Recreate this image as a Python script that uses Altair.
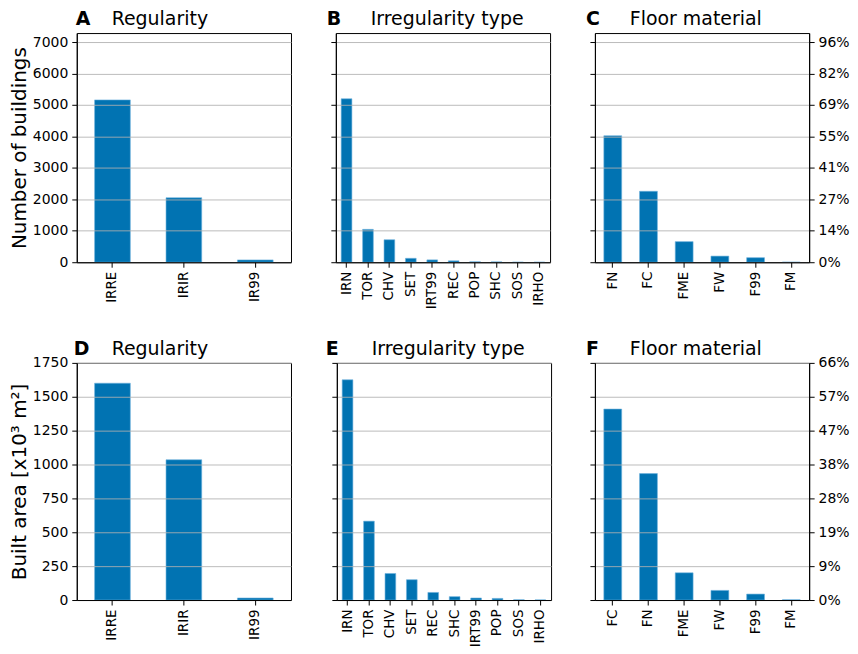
import altair as alt
import pandas as pd

# ---- data ----
reg_cats = ["IRRE", "IRIR", "IR99"]
reg_count = [5160, 2050, 75]
irr_cats_count = ["IRN", "TOR", "CHV", "SET", "IRT99", "REC", "POP", "SHC", "SOS", "IRHO"]
irr_count = [5195, 1045, 715, 125, 75, 45, 15, 12, 3, 2]
floor_cats_count = ["FN", "FC", "FME", "FW", "F99", "FM"]
floor_count = [4020, 2255, 655, 195, 145, 3]

reg_area = [1600, 1035, 15]
irr_cats_area = ["IRN", "TOR", "CHV", "SET", "REC", "SHC", "IRT99", "POP", "SOS", "IRHO"]
irr_area = [1625, 582, 196, 150, 56, 25, 15, 12, 2, 1]
floor_cats_area = ["FC", "FN", "FME", "FW", "F99", "FM"]
floor_area = [1409, 933, 201, 71, 44, 2]

count_ticks = [0, 1000, 2000, 3000, 4000, 5000, 6000, 7000]
area_ticks = [0, 250, 500, 750, 1000, 1250, 1500, 1750]
count_total = sum(reg_count)
area_total = sum(reg_area)
count_ymax = count_total
area_ymax = 1750

BLUE = "#0173B2"
FONT = "DejaVu Sans"
W = 215


def panel(cats, vals, ymax, ticks, letter, subject, letter_dx, height,
          ytitle=None, pct_total=None):
    df = pd.DataFrame({"cat": cats, "val": vals})
    x = alt.X(
        "cat:N", sort=cats, title=None,
        scale=alt.Scale(paddingInner=0.5, paddingOuter=0.25),
        axis=alt.Axis(labelAngle=270, labelFontSize=13.5, labelColor="black", tickSize=5,
                      tickColor="black", labelPadding=4, domain=True, domainColor="black",
                      grid=False, zindex=1),
    )
    yscale = alt.Scale(domain=[0, ymax], nice=False, zero=True)
    yaxis_kw = dict(values=ticks, format="d", grid=True, gridColor="#b0b0b0",
                    gridOpacity=0.85, tickSize=5, tickColor="black", domain=True,
                    domainColor="black", labelFontSize=14, labelColor="black",
                    labelPadding=4, zindex=1)
    if ytitle is not None:
        yaxis = alt.Axis(title=ytitle, titleFontSize=20, titleFontWeight="normal",
                         titleColor="black", titlePadding=3, **yaxis_kw)
    else:
        yaxis = alt.Axis(title=None, labels=False, **yaxis_kw)
    bars = alt.Chart(df).mark_bar(color=BLUE, stroke="#6fb2de", strokeWidth=0.6).encode(
        x=x, y=alt.Y("val:Q", scale=yscale, axis=yaxis)
    )
    layers = [bars]
    if pct_total is not None:
        pct = alt.Chart(df).mark_bar(opacity=0).encode(
            x=x,
            y=alt.Y("val:Q", scale=yscale,
                    axis=alt.Axis(orient="right", values=ticks, title=None, grid=False,
                                  tickSize=5, tickColor="black", domain=True,
                                  domainColor="black", labelFontSize=14,
                                  labelColor="black", labelPadding=4, zindex=1,
                                  labelExpr=f"format(datum.value / {pct_total}, '.0%')")),
        )
        layers.append(pct)
    letter_t = alt.Chart(pd.DataFrame({"t": [letter]})).mark_text(
        align="left", baseline="alphabetic", fontSize=19, fontWeight="bold",
        font=FONT, color="black"
    ).encode(text="t:N", x=alt.value(letter_dx), y=alt.value(-8))
    subj_t = alt.Chart(pd.DataFrame({"t": [subject]})).mark_text(
        align="left", baseline="alphabetic", fontSize=19, fontWeight="normal",
        font=FONT, color="black"
    ).encode(text="t:N", x=alt.value(35), y=alt.value(-8))
    ch = alt.layer(*layers, letter_t, subj_t)
    if pct_total is not None:
        ch = ch.resolve_scale(y="shared").resolve_axis(y="independent")
    return ch.properties(width=W, height=height)


H1, H2 = 230, 238
A = panel(reg_cats, reg_count, count_ymax, count_ticks, "A", "Regularity", -1, H1,
          ytitle="Number of buildings")
B = panel(irr_cats_count, irr_count, count_ymax, count_ticks, "B", "Irregularity type", -9, H1)
C = panel(floor_cats_count, floor_count, count_ymax, count_ticks, "C", "Floor material", -9, H1,
          pct_total=count_total)
D = panel(reg_cats, reg_area, area_ymax, area_ticks, "D", "Regularity", -3, H2,
          ytitle="Built area [x10³  m²]")
E = panel(irr_cats_area, irr_area, area_ymax, area_ticks, "E", "Irregularity type", -11, H2)
F = panel(floor_cats_area, floor_area, area_ymax, area_ticks, "F", "Floor material", -9, H2,
          pct_total=area_total)

row1 = alt.hconcat(A, B, C, spacing=34)
row2 = alt.hconcat(D, E, F, spacing=33)

chart = alt.vconcat(row1, row2, spacing=29).properties(
    padding={"left": 0, "top": 0, "right": 0, "bottom": 0}
).configure(font=FONT).configure_view(stroke="black", strokeWidth=1)

chart.save("out.html", embed_options={"renderer": "svg", "actions": False})
